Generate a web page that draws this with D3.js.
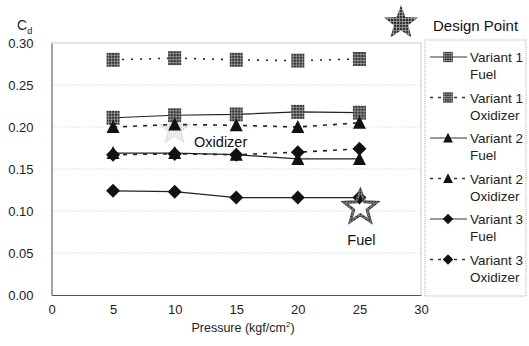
<!DOCTYPE html>
<html><head><meta charset="utf-8">
<script src="https://cdn.jsdelivr.net/npm/d3@7"></script>
<style>body{margin:0;background:#fff;}svg{display:block;font-family:"Liberation Sans",Arial,sans-serif;}</style>
</head><body><svg id="c" width="529" height="346"></svg>
<script>
const pressure = [5, 10, 15, 20, 25];
const v1Fuel = [0.211, 0.214, 0.215, 0.218, 0.217];
const v1Oxid = [0.280, 0.282, 0.280, 0.279, 0.281];
const v2Fuel = [0.169, 0.169, 0.167, 0.162, 0.162];
const v2Oxid = [0.200, 0.203, 0.202, 0.200, 0.205];
const v3Fuel = [0.124, 0.123, 0.116, 0.116, 0.116];
const v3Oxid = [0.167, 0.168, 0.167, 0.170, 0.174];
const xTicks = [0, 5, 10, 15, 20, 25, 30];
const yTicks = [0, 0.05, 0.10, 0.15, 0.20, 0.25, 0.30];
const designLabels = ["Oxidizer", "Fuel"];
const designX = [10, 25];
const designY = [0.197, 0.104];

const series = [
  {name: ["Variant 1", "Fuel"], vals: v1Fuel, marker: "square", dash: null},
  {name: ["Variant 1", "Oxidizer"], vals: v1Oxid, marker: "square", dash: "2,7"},
  {name: ["Variant 2", "Fuel"], vals: v2Fuel, marker: "triangle", dash: null},
  {name: ["Variant 2", "Oxidizer"], vals: v2Oxid, marker: "triangle", dash: "4,6"},
  {name: ["Variant 3", "Fuel"], vals: v3Fuel, marker: "diamond", dash: null},
  {name: ["Variant 3", "Oxidizer"], vals: v3Oxid, marker: "diamond", dash: "4,6"}
];

const svg = d3.select("#c");
const defs = svg.append("defs");
const pat = defs.append("pattern").attr("id", "grid").attr("width", 3).attr("height", 3).attr("patternUnits", "userSpaceOnUse");
pat.append("rect").attr("width", 3).attr("height", 3).attr("fill", "#333");
pat.append("path").attr("d", "M0,1.5H3M1.5,0V3").attr("stroke", "#aaa").attr("stroke-width", 0.7);
const pat2 = defs.append("pattern").attr("id", "faint").attr("width", 2).attr("height", 2).attr("patternUnits", "userSpaceOnUse");
pat2.append("rect").attr("width", 1).attr("height", 1).attr("fill", "#aaa");

const x = d3.scaleLinear().domain([0, 30]).range([51.5, 421]);
const y = d3.scaleLinear().domain([0, 0.30]).range([295, 43]);

function starPath(R) {
  const r = R * 0.42; let p = [];
  for (let i = 0; i < 10; i++) {
    const a = -Math.PI / 2 + i * Math.PI / 5;
    const rr = i % 2 ? r : R;
    p.push([rr * Math.cos(a), rr * Math.sin(a)]);
  }
  return "M" + p.map(d => d.join(",")).join("L") + "Z";
}

// grid lines
svg.append("g").selectAll("line").data(yTicks.slice(1, -1)).join("line")
  .attr("x1", x(0)).attr("x2", x(30)).attr("y1", d => y(d)).attr("y2", d => y(d))
  .attr("stroke", "#bbb").attr("stroke-width", 0.8).attr("stroke-dasharray", "1,2");
// border top/right dotted
svg.append("path").attr("d", `M${x(0)},${y(0.30)}H${x(30)}V${y(0)}`)
  .attr("fill", "none").attr("stroke", "#888").attr("stroke-width", 0.9).attr("stroke-dasharray", "1,1");

// axes
const xAxis = d3.axisBottom(x).tickValues(xTicks).tickFormat(d3.format("d")).tickSize(0).tickPadding(10);
const gx = svg.append("g").attr("transform", `translate(0,${y(0)})`).call(xAxis);
gx.select(".domain").attr("stroke", "#555").attr("stroke-width", 1.2);
gx.selectAll("text").attr("font-size", 13).attr("fill", "#222").attr("font-family", "Liberation Sans, Arial, sans-serif");
const yAxis = d3.axisLeft(y).tickValues(yTicks).tickFormat(d3.format(".2f")).tickSize(0).tickPadding(18);
const gy = svg.append("g").attr("transform", `translate(${x(0)},0)`).call(yAxis);
gy.select(".domain").attr("stroke", "#666").attr("stroke-width", 1.2);
gy.selectAll("text").attr("font-size", 13).attr("fill", "#222").attr("font-family", "Liberation Sans, Arial, sans-serif");

// axis titles
const xt = svg.append("text").attr("x", 243).attr("y", 332).attr("text-anchor", "middle").attr("font-size", 12.5).attr("fill", "#222");
xt.append("tspan").text("Pressure (kgf/cm");
xt.append("tspan").attr("font-size", 8).attr("dy", -5).text("2");
xt.append("tspan").attr("dy", 5).text(")");
const yt = svg.append("text").attr("x", 17).attr("y", 30).attr("font-size", 14).attr("fill", "#222");
yt.append("tspan").text("C");
yt.append("tspan").attr("font-size", 9).attr("dy", 4).text("d");

// design point stars (behind)
const dp = designX.map((d, i) => ({x: d, y: designY[i], label: designLabels[i]}));
svg.append("path").attr("d", starPath(16)).attr("transform", `translate(${x(dp[0].x)},${y(dp[0].y)})`)
  .attr("fill", "url(#faint)").attr("stroke", "#bbb").attr("stroke-width", 0.8).attr("stroke-dasharray", "1,1");

function marker(g, type) {
  if (type === "square") {
    g.append("rect").attr("x", -6.5).attr("y", -7).attr("width", 13).attr("height", 14).attr("fill", "url(#grid)");
  } else if (type === "triangle") {
    g.append("path").attr("d", "M0,-7L6.5,6L-6.5,6Z").attr("fill", "#111");
  } else {
    g.append("path").attr("d", "M0,-7L7,0L0,7L-7,0Z").attr("fill", "#111");
  }
}

const line = d3.line().x(d => x(d[0])).y(d => y(d[1]));
series.forEach(s => {
  const pts = pressure.map((p, i) => [p, s.vals[i]]);
  svg.append("path").datum(pts).attr("d", line).attr("fill", "none")
    .attr("stroke", "#222").attr("stroke-width", s.dash ? 1.6 : 1.2)
    .attr("stroke-dasharray", s.dash);
});
series.forEach(s => {
  pressure.forEach((p, i) => {
    const g = svg.append("g").attr("transform", `translate(${x(p)},${y(s.vals[i])})`);
    marker(g, s.marker);
  });
});

// fuel star (hollow)
svg.append("path").attr("d", starPath(17)).attr("transform", `translate(${x(dp[1].x) + 1},${y(dp[1].y)})`)
  .attr("fill", "none").attr("stroke", "#444").attr("stroke-width", 3);
svg.append("path").attr("d", starPath(17)).attr("transform", `translate(${x(dp[1].x) + 1},${y(dp[1].y)})`)
  .attr("fill", "none").attr("stroke", "url(#grid)").attr("stroke-width", 2);
svg.append("text").attr("x", x(dp[0].x) + 46).attr("y", y(dp[0].y) + 17).attr("text-anchor", "middle")
  .attr("font-size", 14.5).attr("fill", "#111").text(dp[0].label);
svg.append("text").attr("x", x(dp[1].x) + 2).attr("y", y(dp[1].y) + 37).attr("text-anchor", "middle")
  .attr("font-size", 14.5).attr("fill", "#111").text(dp[1].label);

// legend
svg.append("path").attr("d", starPath(18)).attr("transform", "translate(401,23)").attr("fill", "url(#grid)");
svg.append("text").attr("x", 433).attr("y", 31).attr("font-size", 15).attr("fill", "#111").text("Design Point");
svg.append("rect").attr("x", 425).attr("y", 40).attr("width", 101).attr("height", 256)
  .attr("fill", "none").attr("stroke", "#999").attr("stroke-width", 0.8).attr("stroke-dasharray", "1,1");
series.forEach((s, i) => {
  const yy = 57 + i * 40.5;
  svg.append("line").attr("x1", 430).attr("x2", 467).attr("y1", yy).attr("y2", yy)
    .attr("stroke", "#333").attr("stroke-width", s.dash ? 1.6 : 1.1).attr("stroke-dasharray", s.dash ? "3,5" : null);
  const g = svg.append("g").attr("transform", `translate(448,${yy}) scale(0.75)`);
  marker(g, s.marker);
  const t = svg.append("text").attr("x", 470).attr("y", yy + 5).attr("font-size", 13.5).attr("fill", "#222");
  t.append("tspan").text(s.name[0]);
  t.append("tspan").attr("x", 470).attr("dy", 17).text(s.name[1]);
});
</script></body></html>
